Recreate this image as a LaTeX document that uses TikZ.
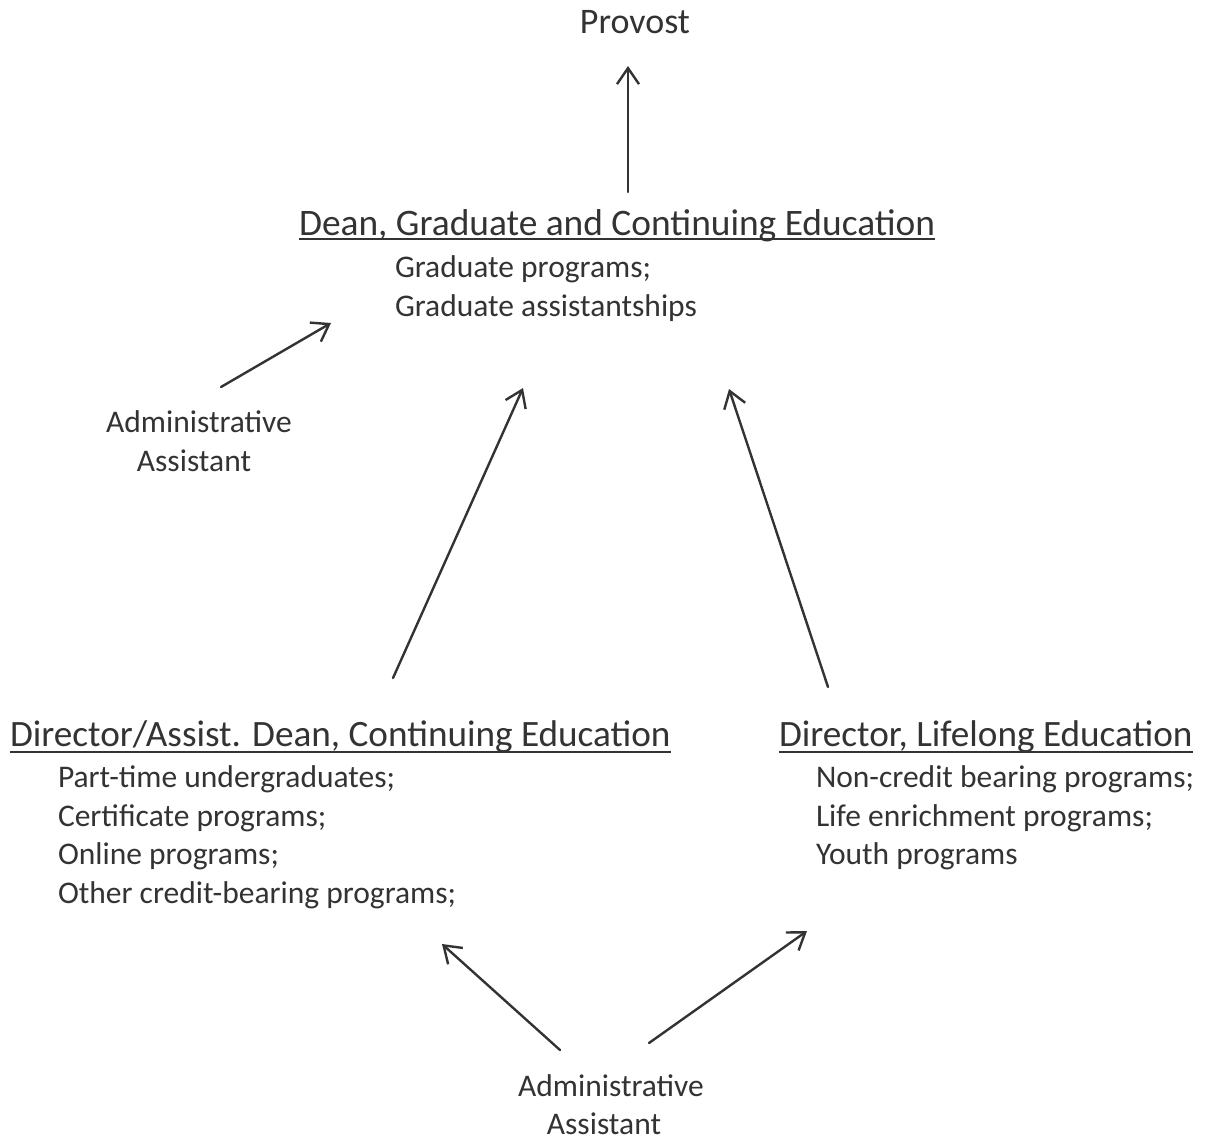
\documentclass[tikz,border=0pt]{standalone}
\usepackage{fontspec}
\setmainfont{Carlito}
\usetikzlibrary{arrows.meta}
\definecolor{ink}{HTML}{333333}
\begin{document}
\begin{tikzpicture}[x=1pt,y=-1pt,
  every node/.style={inner sep=0pt,outer sep=0pt,text=ink},
  headtxt/.style={anchor=base west,font=\fontsize{37.2}{44}\selectfont},
  bodytxt/.style={anchor=base west,font=\fontsize{31.5}{38}\selectfont},
  ctrtxt/.style={anchor=base,font=\fontsize{31.5}{38}\selectfont},
  uline/.style={draw=ink,line width=2pt},
  link/.style={draw=ink,line width=2.4pt,line cap=round,-{Straight Barb[length=16pt,width=22pt,line width=2.4pt]}}]
\useasboundingbox (0,0) rectangle (1205,1141);
% Provost
\node[ctrtxt,font=\fontsize{36}{44}\selectfont] (provost) at (635,33) {Provost};
% Dean
\node[headtxt,font=\fontsize{37.4}{44}\selectfont] (dean) at (299,235) {Dean, Graduate and Continuing Education};
\draw[uline] ([yshift=-4pt]dean.base west) -- ([yshift=-4pt]dean.base east);
\node[bodytxt] (dean1) at (395,277.5) {Graduate programs;};
\node[bodytxt] (dean2) at (395,316) {Graduate assistantships};
% Admin assistant (top)
\node[ctrtxt] (aa1a) at (199,432.5) {Administrative};
\node[ctrtxt] (aa1b) at (194,471) {Assistant};
% Director / Assist. Dean
\node[headtxt] (dir) at (10,746.5) {Director/Assist. Dean, Continuing Education};
\draw[uline] ([yshift=-5pt]dir.base west) -- ([yshift=-5pt]dir.base east);
\node[bodytxt] (dir1) at (58,787.5) {Part-time undergraduates;};
\node[bodytxt] (dir2) at (58,826) {Certificate programs;};
\node[bodytxt] (dir3) at (58,864.5) {Online programs;};
\node[bodytxt] (dir4) at (58,903) {Other credit-bearing programs;};
% Director, Lifelong
\node[headtxt] (life) at (779,746.5) {Director, Lifelong Education};
\draw[uline] ([yshift=-5pt]life.base west) -- ([yshift=-5pt]life.base east);
\node[bodytxt] (life1) at (816,787.5) {Non-credit bearing programs;};
\node[bodytxt] (life2) at (816,826) {Life enrichment programs;};
\node[bodytxt] (life3) at (816,864.5) {Youth programs};
% Admin assistant (bottom)
\node[ctrtxt] (aa2a) at (611,1096) {Administrative};
\node[ctrtxt] (aa2b) at (604,1134) {Assistant};
% connector endpoints
\coordinate (p0) at (628,192); \coordinate (p1) at (628,66);
\coordinate (a0) at (221,387); \coordinate (a1) at (331,323);
\coordinate (l0) at (393,678); \coordinate (l1) at (523,388);
\coordinate (r0) at (828,687); \coordinate (r1) at (729,389);
\coordinate (b0) at (560,1050); \coordinate (b1) at (442,944);
\coordinate (c0) at (649,1043); \coordinate (c1) at (807,931);
\draw[link] (p0) -- (p1);
\draw[link] (a0) -- (a1);
\draw[link] (l0) -- (l1);
\draw[link] (r0) -- (r1);
\draw[link] (b0) -- (b1);
\draw[link] (c0) -- (c1);
\end{tikzpicture}
\end{document}
